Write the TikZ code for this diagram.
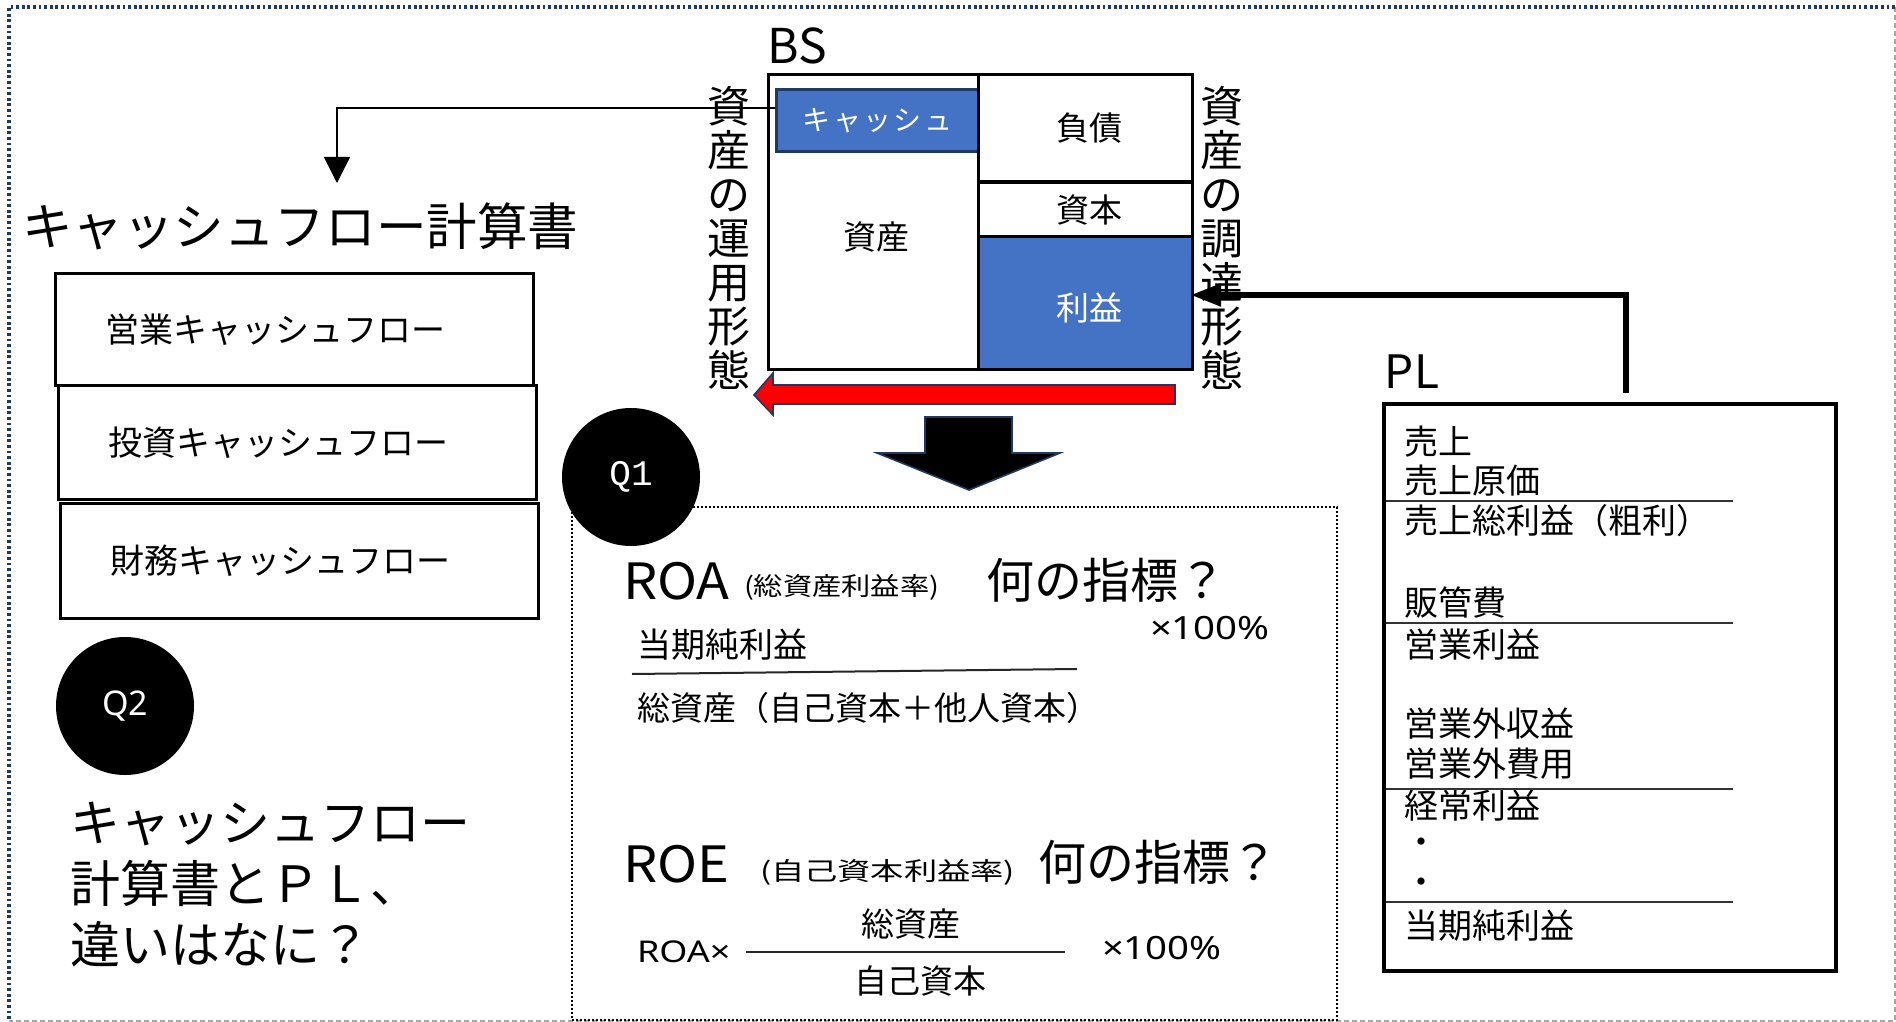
\documentclass[tikz,border=0pt]{standalone}
\usepackage{fontspec}
\setmainfont{Noto Sans CJK JP}
\newfontfamily\monof{Liberation Mono}
\newfontfamily\latinf{Noto Sans}
\usetikzlibrary{arrows.meta}
\definecolor{bsblue}{HTML}{4472C4}
\definecolor{navy}{HTML}{203864}
\definecolor{bordergray}{HTML}{A6A6A6}
\newcommand\fsz[2]{\fontsize{#1}{#2}\selectfont}
\begin{document}
\begin{tikzpicture}[x=0.5pt,y=-0.5pt,
  txt/.style={inner sep=0pt, outer sep=0pt},
  bsbox/.style={draw=black, line width=1.5pt, anchor=north west, inner sep=0pt, font=\fsz{16.5pt}{20pt}},
  cfbox/.style={draw=black, line width=1.6pt, anchor=north west, inner ysep=0pt, inner xsep=25pt,
     text width=189pt, align=left, font=\fsz{17pt}{20pt}},
  vtext/.style={txt, align=center, font=\fsz{21.5pt}{22pt}},
  pltxt/.style={txt, anchor=west, font=\fsz{17pt}{20pt}},
  qcircle/.style={circle, fill=black, minimum size=69pt, inner sep=0pt, text=white},
  thinrule/.style={line width=0.7pt, black!80},
]
\useasboundingbox (0,0) rectangle (1896,1022);
\fill[white] (0,0) rectangle (1896,1022);
% outer frame
\draw[bordergray, line width=0.6pt, dash pattern=on 2.5pt off 1.5pt] (1895,7) -- (1895,1021) -- (9,1021);
\draw[navy, line width=1.6pt, dash pattern=on 1.4pt off 1.4pt] (1895,7) -- (9,7) -- (9,1021);

% ---------- BS ----------
\node[txt, font=\fsz{24pt}{28pt}] (bslabel) at (797,46) {BS};
\node[bsbox, minimum width=105pt, minimum height=147.5pt] (asset) at (767,73) {};
\node[bsbox, draw=navy, fill=bsblue, minimum width=101pt, minimum height=31pt, text=white, font=\fsz{14pt}{16pt}]
  (cash) at (775,88) {キ\hspace{1.2pt}ャ\hspace{1.2pt}ッ\hspace{1.2pt}シ\hspace{1.2pt}ュ};
\node[txt, font=\fsz{16.5pt}{20pt}] (assettxt) at (876,237) {資産};
\node[bsbox, minimum width=107pt, minimum height=53.5pt] (debt) at (977,73) {};
\node[bsbox, minimum width=107pt, minimum height=27pt] (capital) at (977,181) {};
\node[bsbox, fill=bsblue, minimum width=107pt, minimum height=66.5pt] (profit) at (977,235) {};
\node[txt, font=\fsz{16.5pt}{20pt}] (debttxt) at (1089,128) {負債};
\node[txt, font=\fsz{16.5pt}{20pt}] (capitaltxt) at (1089,210) {資本};
\node[txt, font=\fsz{16.5pt}{20pt}, text=white] (profittxt) at (1089,308) {利益};

\node[vtext] (lvt) at (729,238) {資\\産\\の\\運\\用\\形\\態};
\node[vtext] (rvt) at (1222,238) {資\\産\\の\\調\\達\\形\\態};

% red arrow
\filldraw[fill=red, draw=navy, line width=0.8pt]
  (754,395) -- (773,373) -- (773,385) -- (1175,385) -- (1175,404) -- (773,404) -- (773,415) -- cycle;
% black down arrow
\filldraw[fill=black, draw=navy, line width=0.8pt]
  (925,417) -- (1012,417) -- (1012,453) -- (1060,453) -- (969,490) -- (877,453) -- (925,453) -- cycle;

% ---------- Cash flow statement ----------
\node[txt, anchor=west, font=\fsz{25.3pt}{28pt}] (cfhead) at (22,226) {キャッシュフロー計算書};
\node[cfbox, minimum width=239pt, minimum height=56pt] (cf1) at (54,272) {営業キャッシュフロー};
\node[cfbox, minimum width=238.5pt, minimum height=57pt] (cf2) at (57,384) {投資キャッシュフロー};
\node[cfbox, minimum width=239pt, minimum height=57.5pt] (cf3) at (59,502) {財務キャッシュフロー};

\coordinate (cashout) at (775,108);
\coordinate (cftip) at (337,183);
\draw[line width=0.75pt, -{Triangle[length=13pt,width=13pt]}] (cashout) -| (cftip);

% ---------- Q2 ----------
\node[qcircle, font=\latinf\fsz{17pt}{20pt}] (q2) at (125,706) {Q2};
\node[txt, anchor=west, align=left, font=\fsz{25pt}{30.5pt}] (q2text) at (70,885)
  {キャッシュフロー\\計算書とＰＬ、\\違いはなに？};

% ---------- PL ----------
\node[txt, font=\fsz{23pt}{26pt}] (pllabel) at (1412,372) {PL};
\node[draw=black, line width=2pt, anchor=north west, minimum width=226pt, minimum height=283.5pt, inner sep=0pt]
  (plbox) at (1382,402) {};
\foreach \y/\t [count=\i] in {442/売上, 481/売上原価, 521/売上総利益（粗利）, 603/販管費, 645/営業利益,
   724/営業外収益, 764/営業外費用, 806/経常利益, 846/・, 886/・, 926/当期純利益}
  \node[pltxt] (pl\i) at (1404,\y) {\t};
\foreach \y in {501,623,789,902}
  \draw[thinrule] (1386,\y) -- (1733,\y);

% PL -> profit connector
\coordinate (plup) at (1626,393);
\coordinate (plcorner) at (1626,295);
\coordinate (profitin) at (1191,295);
\draw[line width=2.6pt, -{Triangle[length=15pt,width=11pt]}] (plup) -- (plcorner) -- (profitin);

% ---------- Q1 box ----------
\node[draw=black, line width=1pt, dash pattern=on 1pt off 1pt, anchor=north west,
  minimum width=382.5pt, minimum height=256.5pt, inner sep=0pt] (q1box) at (571,506) {};
\node[qcircle, font=\monof\fsz{18pt}{20pt}] (q1) at (631,477) {Q1};

\node[txt, anchor=west, font=\fsz{25pt}{28pt}] (roa) at (623,581) {\scalebox{1.08}[1]{ROA}};
\node[txt, anchor=west, font=\fsz{12.5pt}{14pt}] (roasub) at (744,587) {\scalebox{1.17}[1]{(総資産利益率)}};
\node[txt, anchor=west, font=\fsz{24pt}{28pt}] (roaq) at (986,580) {何の指標？};
\node[txt, anchor=west, font=\latinf\fsz{16pt}{18pt}] (roapct) at (1150,628) {\scalebox{1.2}[1]{×100\%}};
\node[txt, anchor=west, font=\fsz{17pt}{20pt}] (roanum) at (637,645) {当期純利益};
\draw[line width=1pt, black!85] (632,674) -- (1077,669);
\node[txt, anchor=west, font=\fsz{16.5pt}{20pt}] (roaden) at (637,708) {総資産（自己資本＋他人資本）};

\node[txt, anchor=west, font=\fsz{25pt}{28pt}] (roe) at (623,864) {\scalebox{1.08}[1]{ROE}};
\node[txt, anchor=west, font=\fsz{12.5pt}{14pt}] (roesub) at (760,872) {\scalebox{1.33}[1]{(自己資本利益率)}};
\node[txt, anchor=west, font=\fsz{24pt}{28pt}] (roeq) at (1038,862) {何の指標？};
\node[txt, font=\fsz{16.5pt}{20pt}] (roenum) at (911,924) {総資産};
\node[txt, anchor=west, font=\latinf\fsz{15pt}{18pt}] (roeroa) at (637,952) {\scalebox{1.2}[1]{ROA×}};
\draw[line width=1pt, black!85] (746,952) -- (1065,952);
\node[txt, font=\fsz{16.5pt}{20pt}] (roeden) at (920,981) {自己資本};
\node[txt, anchor=west, font=\latinf\fsz{16pt}{18pt}] (roepct) at (1102,948) {\scalebox{1.2}[1]{×100\%}};
\end{tikzpicture}
\end{document}
